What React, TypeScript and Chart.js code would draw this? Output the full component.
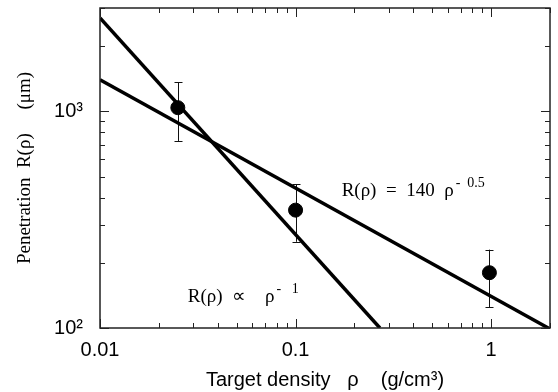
import React, { useEffect, useRef } from "react";
import { Chart, registerables } from "chart.js";

Chart.register(...registerables);

// Measured data points (target density, penetration) with error bars
const pointX = [0.025, 0.1, 0.98];
const pointY = [1040, 350, 180];
const errLow = [730, 250, 125];
const errHigh = [1360, 460, 230];

// Fitted power-law lines (end points)
const steepX = [0.01, 0.27];
const steepY = [2700, 100];
const flatX = [0.01, 2];
const flatY = [1400, 99];

// Axis ranges and ticks
const xRange = [0.01, 2];
const yRange = [100, 3000];
const xTickMajor = [0.01, 0.1, 1];
const xTickLabels = ["0.01", "0.1", "1"];
const xTickMinor = [0.02, 0.03, 0.04, 0.05, 0.06, 0.07, 0.08, 0.09, 0.2, 0.3, 0.4, 0.5, 0.6, 0.7, 0.8, 0.9, 2];
const yTickMajor = [100, 1000];
const yTickLabels = ["10\u00B2", "10\u00B3"];
const yTickMinor = [200, 300, 400, 500, 600, 700, 800, 900, 2000, 3000];

// Annotation anchors in data coordinates
const ann1 = { x: 0.172, y: 407, main: "R(\u03C1)  =  140  \u03C1", sup: "-  0.5" };
const ann2 = { x: 0.0281, y: 132, main: "R(\u03C1)  \u221D    \u03C1", sup: "-   1" };

const SERIF = "'Liberation Serif', 'Times New Roman', serif";
const SANS = "'Liberation Sans', Arial, sans-serif";

const decorPlugin = {
  id: "decor",
  beforeDatasetsDraw(chart: any) {
    const { ctx, scales } = chart;
    const xs = scales.x, ys = scales.y;
    ctx.save();
    ctx.strokeStyle = "#111";
    ctx.lineWidth = 1;
    for (let i = 0; i < pointX.length; i++) {
      const px = Math.round(xs.getPixelForValue(pointX[i])) + 0.5;
      const lo = ys.getPixelForValue(errLow[i]);
      const hi = ys.getPixelForValue(errHigh[i]);
      ctx.beginPath();
      ctx.moveTo(px, lo);
      ctx.lineTo(px, hi);
      ctx.moveTo(px - 4, Math.round(lo) + 0.5);
      ctx.lineTo(px + 4, Math.round(lo) + 0.5);
      ctx.moveTo(px - 4, Math.round(hi) + 0.5);
      ctx.lineTo(px + 4, Math.round(hi) + 0.5);
      ctx.stroke();
    }
    ctx.restore();
  },
  afterDraw(chart: any) {
    const { ctx, chartArea: a, scales } = chart;
    const xs = scales.x, ys = scales.y;
    ctx.save();
    ctx.strokeStyle = "#222";
    ctx.lineWidth = 1.5;
    ctx.strokeRect(a.left, a.top, a.right - a.left, a.bottom - a.top);
    ctx.lineWidth = 1;
    const drawX = (v: number, len: number) => {
      const px = Math.round(xs.getPixelForValue(v)) + 0.5;
      ctx.beginPath();
      ctx.moveTo(px, a.bottom);
      ctx.lineTo(px, a.bottom - len);
      ctx.moveTo(px, a.top);
      ctx.lineTo(px, a.top + len);
      ctx.stroke();
    };
    const drawY = (v: number, len: number) => {
      const py = Math.round(ys.getPixelForValue(v)) + 0.5;
      ctx.beginPath();
      ctx.moveTo(a.left, py);
      ctx.lineTo(a.left + len, py);
      ctx.moveTo(a.right, py);
      ctx.lineTo(a.right - len, py);
      ctx.stroke();
    };
    xTickMinor.forEach((v) => drawX(v, 5));
    xTickMajor.forEach((v) => drawX(v, 9));
    yTickMinor.forEach((v) => drawY(v, 5));
    yTickMajor.forEach((v) => drawY(v, 9));

    ctx.fillStyle = "#000";
    ctx.textBaseline = "alphabetic";
    ctx.textAlign = "left";
    for (const an of [ann1, ann2]) {
      const x0 = xs.getPixelForValue(an.x);
      const y0 = ys.getPixelForValue(an.y);
      ctx.font = `19px ${SERIF}`;
      ctx.fillText(an.main, x0, y0);
      const w = ctx.measureText(an.main).width;
      ctx.font = `14px ${SERIF}`;
      ctx.fillText(an.sup, x0 + w + 2, y0 - 9);
    }
    ctx.restore();
  },
};

export default function App() {
  const ref = useRef<HTMLCanvasElement | null>(null);
  useEffect(() => {
    if (!ref.current) return;
    const chart = new Chart(ref.current, {
      type: "scatter",
      data: {
        datasets: [
          {
            label: "data",
            data: pointX.map((x, i) => ({ x, y: pointY[i] })),
            backgroundColor: "#000",
            borderColor: "#000",
            pointRadius: 7,
            pointHoverRadius: 7,
            showLine: false,
          },
          {
            label: "steep",
            data: steepX.map((x, i) => ({ x, y: steepY[i] })),
            showLine: true,
            borderColor: "#000",
            borderWidth: 3.5,
            pointRadius: 0,
          },
          {
            label: "flat",
            data: flatX.map((x, i) => ({ x, y: flatY[i] })),
            showLine: true,
            borderColor: "#000",
            borderWidth: 3.5,
            pointRadius: 0,
          },
        ],
      },
      options: {
        responsive: false,
        animation: false,
        layout: { padding: { top: 6, right: 3, left: 0, bottom: 0 } },
        plugins: { legend: { display: false }, tooltip: { enabled: false } },
        scales: {
          x: {
            type: "logarithmic",
            min: xRange[0],
            max: xRange[1],
            grid: { display: false, drawTicks: false },
            border: { display: false },
            afterBuildTicks: (s: any) => {
              s.ticks = xTickMajor.map((v) => ({ value: v }));
            },
            afterFit: (s: any) => {
              s.height = 64;
              s.paddingLeft = 0;
              s.paddingRight = 0;
            },
            ticks: {
              autoSkip: false,
              maxRotation: 0,
              padding: 10,
              color: "#000",
              font: { family: SANS, size: 20 },
              callback: (_v: any, i: number) => xTickLabels[i],
            },
            title: {
              display: true,
              text: "Target density   \u03C1    (g/cm\u00B3)",
              color: "#000",
              font: { family: SANS, size: 20 },
              padding: { top: 0, bottom: 0 },
            },
          },
          y: {
            type: "logarithmic",
            min: yRange[0],
            max: yRange[1],
            grid: { display: false, drawTicks: false },
            border: { display: false },
            afterBuildTicks: (s: any) => {
              s.ticks = yTickMajor.map((v) => ({ value: v }));
            },
            afterFit: (s: any) => {
              s.width = 100;
              s.paddingTop = 0;
              s.paddingBottom = 0;
            },
            ticks: {
              autoSkip: false,
              padding: 17,
              color: "#000",
              font: { family: SANS, size: 20 },
              callback: (_v: any, i: number) => yTickLabels[i],
            },
            title: {
              display: true,
              text: "Penetration  R(\u03C1)     (\u03BCm)",
              color: "#000",
              font: { family: SERIF, size: 19 },
              padding: { top: 14, bottom: 0 },
            },
          },
        },
      },
      plugins: [decorPlugin],
    } as any);
    return () => chart.destroy();
  }, []);
  return (
    <div style={{ position: "absolute", left: 0, top: 0, width: 558, height: 392, background: "#fff" }}>
      <canvas ref={ref} width={558} height={392} />
    </div>
  );
}
